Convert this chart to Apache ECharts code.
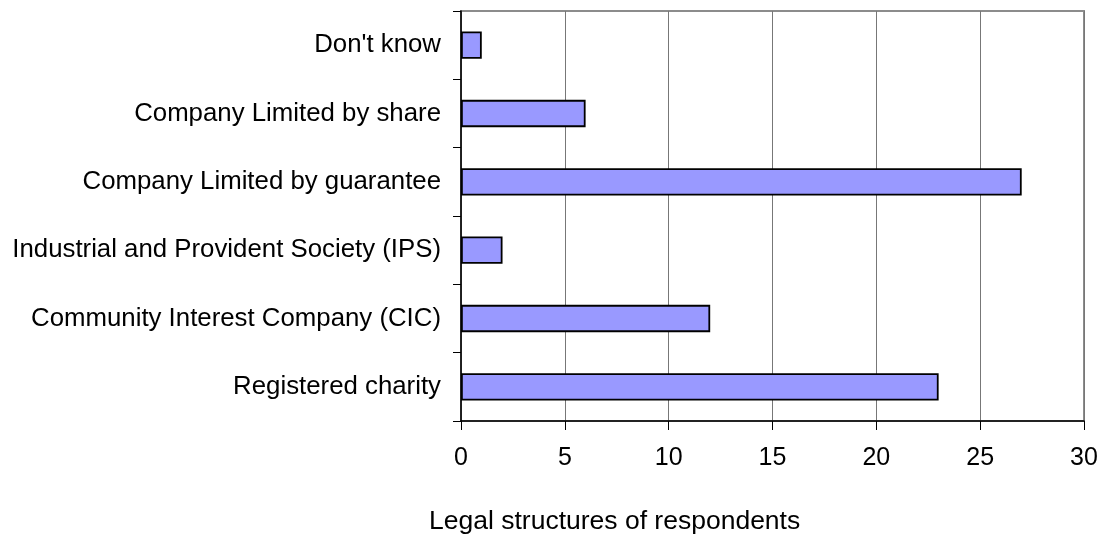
<!DOCTYPE html>
<html>
<head>
<meta charset="utf-8">
<script src="https://cdn.jsdelivr.net/npm/echarts@6/dist/echarts.min.js"></script>
<style>
html,body{margin:0;padding:0;background:#fff;}
#chart{width:1107px;height:534px;}
</style>
</head>
<body>
<div id="chart"></div>
<script>
const categories = ["Don't know", "Company Limited by share", "Company Limited by guarantee", "Industrial and Provident Society (IPS)", "Community Interest Company (CIC)", "Registered charity"];
const values = [1, 6, 27, 2, 12, 23];
const axisTitle = "Legal structures of respondents";

const chart = echarts.init(document.getElementById('chart'), null, {renderer: 'canvas'});
const font = '"Liberation Sans", Arial, sans-serif';
chart.setOption({
  animation: false,
  backgroundColor: '#ffffff',
  title: {
    text: axisTitle,
    left: 424, top: 503,
    textStyle: {fontFamily: font, fontSize: 26.5, fontWeight: 'normal', color: '#000'}
  },
  grid: {
    left: 461, right: 23, top: 11, bottom: 113,
    show: true, borderColor: '#8c8c8c', borderWidth: 2, backgroundColor: 'transparent'
  },
  xAxis: {
    type: 'value', min: 0, max: 30, interval: 5,
    axisLine: {show: true, lineStyle: {color: '#000', width: 1.5}},
    axisTick: {show: true, length: 9, lineStyle: {color: '#000'}},
    splitLine: {show: true, lineStyle: {color: '#777', width: 1}},
    axisLabel: {fontFamily: font, fontSize: 25, color: '#000', margin: 25}
  },
  yAxis: {
    type: 'category', data: categories, inverse: true,
    axisLine: {show: true, lineStyle: {color: '#000', width: 1.5}},
    axisTick: {show: true, length: 8, inside: false, lineStyle: {color: '#000'}},
    axisLabel: {fontFamily: font, fontSize: 25.8, color: '#000', margin: 20}
  },
  series: [{
    type: 'bar', data: values, barWidth: '40%',
    itemStyle: {color: '#9999ff', borderColor: '#000', borderWidth: 1.8}
  }]
});
</script>
</body>
</html>
